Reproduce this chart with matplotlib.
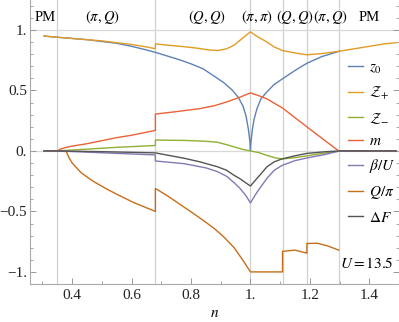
import matplotlib
matplotlib.use("Agg")
import matplotlib.pyplot as plt
from matplotlib.ticker import FixedLocator, FixedFormatter, MultipleLocator

plt.rcParams["font.family"] = ["Liberation Serif", "DejaVu Serif"]
plt.rcParams["mathtext.fontset"] = "stix"

# phase boundaries and phase labels along the top
BOUNDS = [0.35, 0.68, 1.0, 1.108, 1.19, 1.297]
PHASE_POS = [0.31, 0.50, 0.855, 1.02, 1.15, 1.27, 1.40]
PHASE_TXT = ["PM", r"$(\pi,Q)$", r"$(Q,Q)$", r"$(\pi,\pi)$", r"$(Q,Q)$", r"$(\pi,Q)$", "PM"]

# z_0
n_z0 = [0.305, 0.35, 0.40, 0.45, 0.50, 0.55, 0.60, 0.65, 0.68, 0.72, 0.76, 0.80, 0.84,
        0.88, 0.91, 0.94, 0.96, 0.975, 0.985, 0.993, 0.998, 1.0,
        1.002, 1.006, 1.012, 1.022, 1.035, 1.056, 1.08, 1.11, 1.15, 1.19, 1.24, 1.30]
z0 = [0.95, 0.94, 0.93, 0.92, 0.905, 0.89, 0.865, 0.835, 0.815, 0.785, 0.755, 0.72, 0.68,
      0.615, 0.565, 0.50, 0.44, 0.37, 0.29, 0.18, 0.08, 0.0,
      0.08, 0.17, 0.26, 0.35, 0.43, 0.49, 0.55, 0.60, 0.665, 0.725, 0.78, 0.825]

# Z_+
n_zp = [0.305, 0.35, 0.40, 0.45, 0.50, 0.55, 0.60, 0.65, 0.68, 0.68, 0.72, 0.776, 0.82,
        0.86, 0.89, 0.92, 0.945, 0.965, 0.985, 1.0, 1.02, 1.056, 1.08, 1.108, 1.15,
        1.19, 1.24, 1.30, 1.35, 1.40, 1.45, 1.49]
zp = [0.95, 0.94, 0.93, 0.92, 0.91, 0.895, 0.88, 0.86, 0.845, 0.885, 0.875, 0.862, 0.85,
      0.835, 0.83, 0.845, 0.875, 0.915, 0.955, 0.985, 0.95, 0.90, 0.86, 0.83, 0.81,
      0.795, 0.805, 0.825, 0.845, 0.865, 0.885, 0.895]

# Z_-
n_zm = [0.305, 0.35, 0.45, 0.55, 0.68, 0.68, 0.78, 0.85, 0.888, 0.92, 0.95, 0.975, 1.0,
        1.03, 1.06, 1.085, 1.108, 1.15, 1.19, 1.25, 1.30, 1.49]
zm = [0.0, 0.0, 0.015, 0.03, 0.045, 0.09, 0.087, 0.08, 0.072, 0.052, 0.03, 0.012, 0.0,
      -0.015, -0.04, -0.058, -0.066, -0.055, -0.04, -0.018, 0.0, 0.0]

# m
n_m = [0.305, 0.35, 0.36, 0.38, 0.40, 0.45, 0.50, 0.55, 0.60, 0.65, 0.68, 0.68, 0.75,
       0.83, 0.88, 0.92, 0.96, 1.0, 1.03, 1.056, 1.08, 1.108, 1.20, 1.297, 1.49]
m = [0.0, 0.0, 0.015, 0.03, 0.04, 0.06, 0.085, 0.11, 0.13, 0.155, 0.17, 0.305, 0.325,
     0.35, 0.375, 0.405, 0.44, 0.48, 0.455, 0.43, 0.395, 0.355, 0.18, 0.0, 0.0]

# beta/U
n_b = [0.305, 0.35, 0.50, 0.68, 0.68, 0.776, 0.85, 0.888, 0.92, 0.944, 0.965, 0.985, 1.0,
       1.012, 1.028, 1.056, 1.08, 1.106, 1.15, 1.19, 1.25, 1.30, 1.49]
beta = [0.0, 0.0, -0.015, -0.033, -0.083, -0.105, -0.14, -0.17, -0.21, -0.26, -0.31, -0.37, -0.43,
        -0.38, -0.32, -0.225, -0.16, -0.12, -0.08, -0.058, -0.03, 0.0, 0.0]

# Q/pi
n_q = [0.35, 0.38, 0.39, 0.40, 0.43, 0.47, 0.52, 0.56, 0.61, 0.68, 0.68, 0.72, 0.765,
       0.81, 0.85, 0.88, 0.91, 0.945, 0.975, 1.0, 1.108, 1.108, 1.15, 1.19, 1.19, 1.225,
       1.26, 1.297]
q = [0.0, -0.005, -0.06, -0.10, -0.18, -0.25, -0.32, -0.37, -0.43, -0.50, -0.31, -0.37, -0.445,
     -0.52, -0.59, -0.645, -0.71, -0.80, -0.905, -1.0, -1.0, -0.83, -0.82, -0.845, -0.765, -0.763,
     -0.785, -0.82]

# Delta F
n_f = [0.305, 0.35, 0.50, 0.68, 0.776, 0.83, 0.888, 0.92, 0.944, 0.965, 0.985, 1.0,
       1.012, 1.028, 1.056, 1.08, 1.106, 1.15, 1.19, 1.25, 1.30, 1.49]
dF = [0.0, 0.0, -0.006, -0.016, -0.06, -0.09, -0.13, -0.16, -0.20, -0.23, -0.265, -0.29,
      -0.255, -0.21, -0.13, -0.09, -0.066, -0.04, -0.02, -0.007, 0.0, 0.0]

XTICKS = [0.4, 0.6, 0.8, 1.0, 1.2, 1.4]
XLABELS = ["0.4", "0.6", "0.8", "1.", "1.2", "1.4"]
YTICKS = [-1.0, -0.5, 0.0, 0.5, 1.0]
YLABELS = ["\u22121.", "\u22120.5", "0.", "0.5", "1."]

fig = plt.figure(figsize=(3.99, 3.22), dpi=100)
ax = fig.add_axes([30 / 399, 38 / 322, 369 / 399, 284 / 322])

for b in BOUNDS:
    ax.axvline(b, color="#d0d0d0", lw=0.9, zorder=0)
for yv in (0.0, 1.0):
    ax.axhline(yv, color="#d8d8d8", lw=0.9, zorder=0)

lw = 1.0
series = [
    (n_z0, z0, "#5E81B5", r"$z_0$"),
    (n_zp, zp, "#E19C24", r"$\mathcal{Z}_{+}$"),
    (n_zm, zm, "#8FB032", r"$\mathcal{Z}_{-}$"),
    (n_m, m, "#EB6235", r"$m$"),
    (n_q, q, "#C56E1A", r"$Q/\pi$"),
    (n_b, beta, "#8778B3", r"$\beta/U$"),
    (n_f, dF, "#555555", r"$\Delta F$"),
]
lines = {}
for xs, ys, c, lab in series:
    (ln,) = ax.plot(xs, ys, color=c, lw=lw, label=lab)
    lines[lab] = ln

order = [r"$z_0$", r"$\mathcal{Z}_{+}$", r"$\mathcal{Z}_{-}$", r"$m$",
         r"$\beta/U$", r"$Q/\pi$", r"$\Delta F$"]
ax.legend([lines[k] for k in order], order,
          loc="upper left", bbox_to_anchor=(0.862, 0.785), frameon=False,
          fontsize=11, handlelength=1.0, handletextpad=0.4, labelspacing=0.6,
          borderaxespad=0.0, borderpad=0.0)

for px, t in zip(PHASE_POS, PHASE_TXT):
    ax.text(px, 1.105, t, ha="center", va="center", fontsize=10.5)

ax.text(1.39, -0.934, r"$U = 13.5$", ha="center", va="center", fontsize=11)

ax.set_xlim(0.258, 1.5)
ax.set_ylim(-1.10, 1.248)
ax.xaxis.set_major_locator(FixedLocator(XTICKS))
ax.xaxis.set_major_formatter(FixedFormatter(XLABELS))
ax.yaxis.set_major_locator(FixedLocator(YTICKS))
ax.yaxis.set_major_formatter(FixedFormatter(YLABELS))
ax.xaxis.set_minor_locator(MultipleLocator(0.1))
ax.yaxis.set_minor_locator(MultipleLocator(0.1))
ax.tick_params(which="both", direction="in", right=True, top=False, color="#999999",
               labelsize=11, labelcolor="#222222")
ax.tick_params(axis="y", pad=2)
ax.tick_params(which="major", length=4.5, width=0.7)
ax.tick_params(which="minor", length=2.5, width=0.6)
for s in ax.spines.values():
    s.set_color("#aaaaaa")
    s.set_linewidth(0.8)
ax.spines["top"].set_visible(False)
ax.set_xlabel(r"$n$", fontsize=11, labelpad=4)

fig.savefig("out.png", dpi=100)
